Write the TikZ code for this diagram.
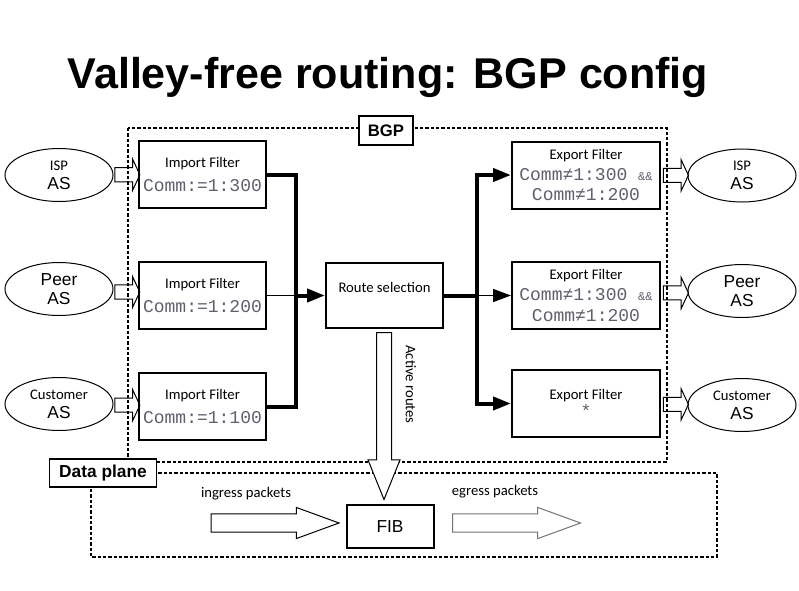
\documentclass[tikz,border=0pt]{standalone}
\usepackage{fontspec}
\setmainfont{Liberation Sans}
\newfontfamily\calfont{Carlito}
\newfontfamily\commfont{Liberation Mono}
\usetikzlibrary{shapes.geometric,shapes.arrows,arrows.meta}
\definecolor{commgray}{RGB}{95,95,110}
\newcommand{\commtxt}[1]{{\commfont\fontsize{13.5}{16}\selectfont\color{commgray}#1}}
\newcommand{\ampamp}{{\commfont\fontsize{9}{10}\selectfont\color{commgray}\&\&}}
\tikzset{
	asbox/.style={ellipse, draw, line width=0.75pt, minimum width=81pt, minimum height=39.75pt, inner sep=0pt, align=center, font=\fontsize{13}{14}\selectfont},
	filterbox/.style={draw, line width=1.5pt, minimum height=50.25pt, inner sep=0pt, align=center},
	impbox/.style={filterbox, minimum width=95.25pt, font=\calfont\fontsize{11}{18}\selectfont},
	expbox/.style={filterbox, minimum width=111pt, font=\calfont\fontsize{11}{15.4}\selectfont},
	labelbox/.style={draw, fill=white, line width=0.8pt, inner sep=0pt, font=\bfseries\fontsize{13}{14}\selectfont},
	frame/.style={line width=1.2pt, dash pattern=on 2.5pt off 1.5pt},
	bus/.style={line width=3pt},
	feed/.style={line width=1.2pt},
	tip/.style={-{Triangle[length=13.5pt,width=9.75pt]}},
	hollow/.style={single arrow, draw, line width=0.75pt, inner xsep=0pt, inner ysep=4.9pt, single arrow head extend=6.4pt, single arrow tip angle=130, minimum height=18.75pt, minimum width=0pt},
	bigarrow/.style={single arrow, draw, fill=white, line width=0.75pt, inner xsep=0pt, inner ysep=5.25pt, single arrow head extend=6.4pt, single arrow tip angle=44, minimum height=125.25pt, minimum width=0pt},
	pktarrow/.style={single arrow, draw, line width=0.75pt, inner xsep=0pt, inner ysep=6.4pt, single arrow head extend=4.9pt, single arrow tip angle=40, minimum height=96pt, minimum width=0pt},
	caltext/.style={font=\calfont\fontsize{11}{13}\selectfont},
}
\begin{document}
\begin{tikzpicture}[x=0.75pt,y=-0.75pt]
	\useasboundingbox (0,0) rectangle (799,590);
	\node[font=\bfseries\fontsize{32.3}{38}\selectfont, anchor=base] (title) at (388,88) {Valley-free routing: BGP config};
	\draw[frame] (128,128) rectangle (667,462);
	\draw[frame] (91,473) rectangle (717,557);
	\node[labelbox, minimum width=40.5pt, minimum height=21.75pt, font=\bfseries\fontsize{12.5}{14}\selectfont] (bgp) at (386,130.5) {BGP};
	\node[labelbox, minimum width=80pt, minimum height=21pt] (dplane) at (103,473) {Data plane};
	\node[asbox] (asl1) at (59,175) {{\calfont\fontsize{11}{14}\selectfont ISP}\\AS};
	\node[asbox] (asl2) at (59,289) {Peer\\AS};
	\node[asbox] (asl3) at (59,404) {{\calfont\fontsize{11}{14}\selectfont Customer}\\AS};
	\node[asbox] (asr1) at (742,175.5) {{\calfont\fontsize{11}{14}\selectfont ISP}\\AS};
	\node[asbox] (asr2) at (742,291) {Peer\\AS};
	\node[asbox] (asr3) at (742,405) {{\calfont\fontsize{11}{14}\selectfont Customer}\\AS};
	\node[impbox] (imp1) at (202.5,174.5) {Import Filter\\\commtxt{Comm:=1:300}};
	\node[impbox] (imp2) at (202.5,295.5) {Import Filter\\\commtxt{Comm:=1:200}};
	\node[impbox] (imp3) at (202.5,406.5) {Import Filter\\\commtxt{Comm:=1:100}};
	\node[expbox] (exp1) at (586,175) {Export Filter\\\commtxt{Comm≠1:300 \ampamp}\\\commtxt{Comm≠1:200}};
	\node[expbox] (exp2) at (586,295.5) {Export Filter\\\commtxt{Comm≠1:300 \ampamp}\\\commtxt{Comm≠1:200}};
	\node[expbox, font=\calfont\fontsize{11}{13}\selectfont] (exp3) at (586,403.5) {Export Filter\\\commtxt{*}};
	\node[draw, line width=1.5pt, minimum width=87.75pt, minimum height=48.75pt, text depth=12.4pt, caltext] (route) at (384.5,295.5) {Route selection};
	\node[draw, line width=1.5pt, minimum width=65.25pt, minimum height=32.25pt, font=\fontsize{13}{14}\selectfont] (fib) at (390,526.5) {FIB};
	\path (asl1) -- node[hollow] {} (imp1);
	\path (asl2) -- node[hollow] {} (imp2);
	\path (asl3) -- node[hollow] {} (imp3);
	\path (exp1) -- node[hollow] {} (asr1);
	\path (exp2) -- node[hollow] {} (asr2);
	\path (exp3) -- node[hollow] {} (asr3);
	\coordinate (bl) at (296,295.5);
	\coordinate (br) at (477,295.5);
	\draw[bus] (imp1.east) -| (bl) |- (imp3.east);
	\draw[feed] (imp2.east) -- (bl);
	\draw[bus,tip] (bl) -- (route.west);
	\draw[bus] (route.east) -- (br);
	\draw[bus,tip] (br) |- (exp1.west);
	\draw[feed,tip] (br) -- (exp2.west);
	\draw[bus,tip] (br) |- (exp3.west);
	\node[bigarrow, rotate=-90, anchor=tail] (act) at (384,332) {};
	\node[caltext, rotate=-90] (actlbl) at (411,384.5) {Active routes};
	\node[pktarrow, anchor=tip] (ing) at (340.5,523) {};
	\node[pktarrow, anchor=tail, draw=black!55] (egr) at (452,523) {};
	\node[caltext] (inglbl) at (246,494) {ingress packets};
	\node[caltext] (egrlbl) at (495,492) {egress packets};
\end{tikzpicture}
\end{document}
